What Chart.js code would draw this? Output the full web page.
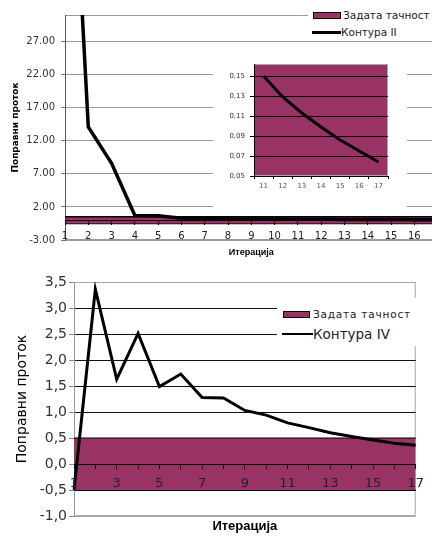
<!DOCTYPE html>
<html>
<head>
<meta charset="utf-8">
<script src="https://cdn.jsdelivr.net/npm/chart.js@4.4.1/dist/chart.umd.min.js"></script>
<style>
  html, body { margin: 0; padding: 0; background: #fff; }
  body { width: 432px; height: 536px; overflow: hidden; position: relative; font-family: "DejaVu Sans", sans-serif; }
  canvas { position: absolute; }
  #top { left: 0; top: 0; }
  #inset { left: 213px; top: 50px; background: #fff; }
  #bottom { left: 0; top: 262px; }
  .legend { position: absolute; background: #fff; color: #222; }
</style>
</head>
<body>
<canvas id="top" width="450" height="263"></canvas>
<canvas id="inset" width="194" height="163"></canvas>
<canvas id="bottom" width="432" height="274"></canvas>
<script>
// iterations
const CATEGORIES = ['1', '2', '3', '4', '5', '6', '7', '8', '9', '10', '11', '12', '13', '14', '15', '16', '17'];
const INSET_CATEGORIES = ['11', '12', '13', '14', '15', '16', '17'];

// correction flow per iteration
const CONTOUR_II = [80, 14.1, 8.6, 0.7, 0.65, 0.3, 0.22, 0.19, 0.17, 0.16, 0.150, 0.129, 0.113, 0.099, 0.086, 0.075, 0.064];
const CONTOUR_IV = [-0.5, 3.36, 1.63, 2.51, 1.49, 1.73, 1.28, 1.27, 1.03, 0.94, 0.79, 0.70, 0.60, 0.53, 0.46, 0.40, 0.36];

// required accuracy band
const TOL_UPPER = [0.5, 0.5, 0.5, 0.5, 0.5, 0.5, 0.5, 0.5, 0.5, 0.5, 0.5, 0.5, 0.5, 0.5, 0.5, 0.5, 0.5];
const TOL_LOWER = [-0.5, -0.5, -0.5, -0.5, -0.5, -0.5, -0.5, -0.5, -0.5, -0.5, -0.5, -0.5, -0.5, -0.5, -0.5, -0.5, -0.5];

// tick labels
const TOP_Y_TICKS = [-3, 2, 7, 12, 17, 22, 27];
const INSET_Y_TICKS = [0.05, 0.07, 0.09, 0.11, 0.13, 0.15];
const BOTTOM_X_LABELS = ['1', '3', '5', '7', '9', '11', '13', '15', '17'];

const MAROON = '#993366';

Chart.defaults.font.family = "'DejaVu Sans', sans-serif";
Chart.defaults.color = '#333';

const plotFrame = {
  id: 'plotFrame',
  beforeDraw(chart, args, opts) {
    const a = chart.chartArea, ctx = chart.ctx;
    ctx.save();
    if (opts.fill) {
      ctx.fillStyle = opts.fill;
      ctx.fillRect(a.left, a.top, a.right - a.left, a.bottom - a.top);
    }
    if (opts.stroke) {
      ctx.strokeStyle = opts.stroke;
      ctx.lineWidth = 1;
      ctx.strokeRect(a.left + 0.5, a.top + 0.5, a.right - a.left - 1, a.bottom - a.top - 1);
    }
    ctx.restore();
  }
};

function bandDatasets(lineWidth) {
  return [
    { label: 'Задата тачност', data: TOL_UPPER, borderColor: '#000', borderWidth: lineWidth, backgroundColor: MAROON, pointRadius: 0, fill: '+1' },
    { label: 'tol-low', data: TOL_LOWER, borderColor: '#000', borderWidth: lineWidth, pointRadius: 0, fill: false }
  ];
}

function titleAxis(text, size, height, padBottom) {
  return {
    type: 'category', position: 'bottom',
    grid: { display: false, drawTicks: false }, border: { display: false }, ticks: { display: false },
    title: { display: true, text: text, color: '#000', font: { family: "'Liberation Sans', sans-serif", size: size, weight: 'bold' }, padding: { top: 0, bottom: padBottom } },
    afterFit: s => { s.height = height; }
  };
}

// top chart
const topChart = new Chart(document.getElementById('top'), {
  type: 'line',
  data: {
    labels: CATEGORIES,
    datasets: [
      { label: 'Контура II', data: CONTOUR_II, borderColor: '#000', borderWidth: 3.5, pointRadius: 0, fill: false },
      ...bandDatasets(1.5)
    ]
  },
  options: {
    responsive: false, animation: false,
    layout: { padding: { top: 15, right: 8, left: 0, bottom: 0 } },
    plugins: { legend: { display: false }, tooltip: { enabled: false }, plotFrame: { stroke: '#999' } },
    scales: {
      x: {
        type: 'category', position: { y: 0 }, offset: false, z: 1,
        grid: { drawOnChartArea: false, tickLength: 4, color: '#000', z: 1 },
        border: { color: '#000', z: 1 },
        ticks: { font: { size: 10 }, color: '#222', padding: 6, maxRotation: 0, autoSkip: false, z: 1 }
      },
      xt: titleAxis('Итерација', 9, 23, 5),
      y: {
        min: -3, max: 31,
        afterBuildTicks: s => { s.ticks = TOP_Y_TICKS.map(v => ({ value: v })); },
        afterFit: s => { s.width = 65; },
        grid: { color: '#999', tickLength: 4, tickColor: '#777' },
        border: { color: '#555' },
        ticks: { callback: v => Number(v).toFixed(2), font: { size: 10 }, color: '#333', padding: 6 },
        title: { display: true, text: 'Поправни проток', color: '#000', font: { size: 9, weight: 'bold' }, padding: { top: 10, bottom: 0 } }
      }
    }
  },
  plugins: [plotFrame]
});

// inset: iterations 11-17 of contour II
new Chart(document.getElementById('inset'), {
  type: 'line',
  data: {
    labels: INSET_CATEGORIES,
    datasets: [{ label: 'Контура II', data: CONTOUR_II.slice(10), borderColor: '#000', borderWidth: 3, pointRadius: 0, fill: false }]
  },
  options: {
    responsive: false, animation: false,
    layout: { padding: { top: 14, right: 19, left: 0, bottom: 0 } },
    plugins: { legend: { display: false }, tooltip: { enabled: false }, plotFrame: { fill: MAROON, stroke: '#aaa' } },
    scales: {
      x: {
        offset: true,
        grid: { offset: true, drawOnChartArea: false, tickLength: 3, color: '#000' },
        border: { color: '#000' },
        ticks: { font: { size: 7 }, color: '#555', padding: 3, maxRotation: 0, autoSkip: false },
        afterFit: s => { s.height = 37; }
      },
      y: {
        min: 0.05, max: 0.162,
        afterBuildTicks: s => { s.ticks = INSET_Y_TICKS.map(v => ({ value: v })); },
        afterFit: s => { s.width = 41; },
        grid: { color: '#000', tickLength: 4 },
        border: { color: '#000' },
        ticks: { callback: v => Number(v).toFixed(2).replace('.', ','), font: { size: 7 }, color: '#333', padding: 5 }
      }
    }
  },
  plugins: [plotFrame]
});

// bottom chart
const bottomChart = new Chart(document.getElementById('bottom'), {
  type: 'line',
  data: {
    labels: CATEGORIES,
    datasets: [
      { label: 'Контура IV', data: CONTOUR_IV, borderColor: '#000', borderWidth: 3, pointRadius: 0, fill: false },
      ...bandDatasets(1)
    ]
  },
  options: {
    responsive: false, animation: false,
    layout: { padding: { top: 20, right: 7, left: 0, bottom: 0 } },
    plugins: { legend: { display: false }, tooltip: { enabled: false }, plotFrame: { stroke: '#aaa' } },
    scales: {
      x: {
        type: 'category', position: { y: 0 }, offset: false, z: 1,
        grid: { drawOnChartArea: false, tickLength: 4, color: '#000', z: 1 },
        border: { color: '#000', z: 1 },
        ticks: {
          font: { size: 13 }, color: '#222', padding: 8, maxRotation: 0, autoSkip: false, z: 1,
          callback: (v, i) => BOTTOM_X_LABELS.includes(CATEGORIES[i]) ? CATEGORIES[i] : ''
        }
      },
      xt: titleAxis('Итерација', 13, 20, 2),
      y: {
        min: -1, max: 3.5,
        afterFit: s => { s.width = 74; },
        grid: {
          color: c => (c.tick && (c.tick.value === 3.5 || c.tick.value === -1)) ? '#aaa' : '#111',
          tickLength: 5, tickColor: '#888'
        },
        border: { color: '#999' },
        ticks: { stepSize: 0.5, callback: v => Number(v).toFixed(1).replace('.', ','), font: { size: 14 }, color: '#333', padding: 2 },
        title: { display: true, text: 'Поправни проток', color: '#000', font: { size: 14 }, padding: { top: 14, bottom: 0 } }
      }
    }
  },
  plugins: [plotFrame]
});

// legends drawn over the plot area, as in the original
function addLegend(chart, box, rows) {
  const ds = chart.data.datasets;
  const entries = [
    { label: ds[1].label, kind: 'box', color: ds[1].backgroundColor },
    { label: ds[0].label, kind: 'line', color: ds[0].borderColor }
  ];
  const wrap = document.createElement('div');
  wrap.className = 'legend';
  Object.assign(wrap.style, { left: box.x + 'px', top: box.y + 'px', width: box.w + 'px', height: box.h + 'px' });
  entries.forEach((e, i) => {
    const r = rows[i];
    const mark = document.createElement('div');
    mark.style.position = 'absolute';
    if (e.kind === 'box') {
      Object.assign(mark.style, { left: r.mx + 'px', top: (r.cy - 3) + 'px', width: r.mw + 'px', height: '7px', background: e.color, border: '1px solid #000', boxSizing: 'border-box' });
    } else {
      Object.assign(mark.style, { left: r.mx + 'px', top: (r.cy - r.lw / 2) + 'px', width: r.mw + 'px', height: r.lw + 'px', background: e.color });
    }
    const txt = document.createElement('div');
    txt.textContent = e.label;
    Object.assign(txt.style, {
      position: 'absolute', left: r.tx + 'px', top: (r.cy - r.size * 0.6) + 'px',
      fontSize: r.size + 'px', lineHeight: (r.size * 1.2) + 'px', letterSpacing: (r.ls || 0) + 'px', whiteSpace: 'nowrap'
    });
    wrap.append(mark, txt);
  });
  document.body.appendChild(wrap);
}

addLegend(topChart, { x: 308, y: 5, w: 130, h: 34 }, [
  { mx: 5, mw: 28, cy: 10, tx: 35, size: 10.5 },
  { mx: 4, mw: 29, cy: 27, tx: 33, size: 10.5, lw: 3 }
]);
addLegend(bottomChart, { x: 277, y: 298, w: 141, h: 48 }, [
  { mx: 6, mw: 27, cy: 16, tx: 36, size: 10.5, ls: 0.8 },
  { mx: 5, mw: 31, cy: 36, tx: 36, size: 13.5, lw: 2.5 }
]);
</script>
</body>
</html>
